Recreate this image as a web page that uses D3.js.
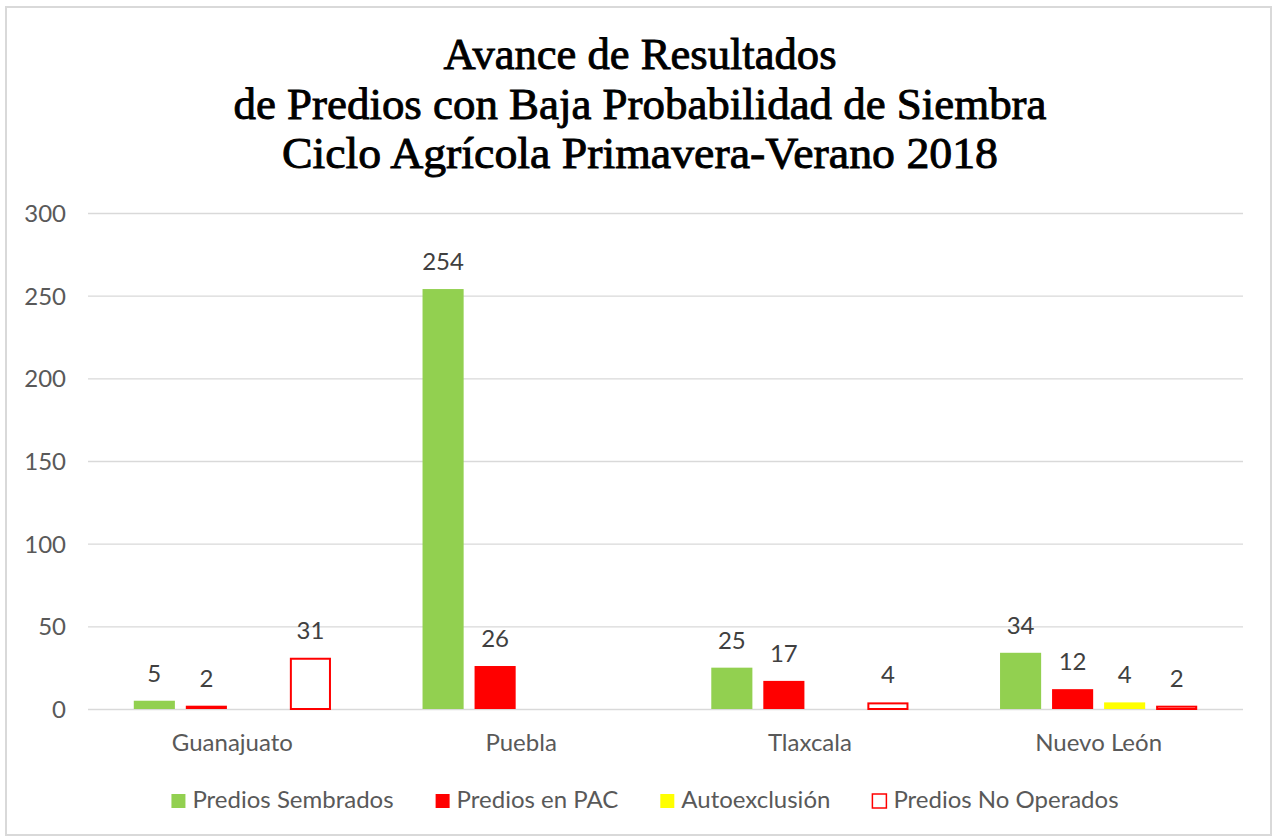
<!DOCTYPE html>
<html>
<head>
<meta charset="utf-8">
<script src="https://cdn.jsdelivr.net/npm/d3@7"></script>
<style>
    body { margin: 0; background: #fff; }
    svg { display: block; }
    .axis-text { font-family: Lato, "Open Sans", sans-serif; fill: #595959; }
    .label-text { font-family: Lato, "Open Sans", sans-serif; fill: #404040; }
    .title-text { font-family: "Liberation Serif", "DejaVu Serif", serif; fill: #000; stroke: #000; stroke-width: 0.9; }
</style>
</head>
<body>
<svg id="chart"></svg>
<script>
// datos
const titleLines = [
    'Avance de Resultados',
    'de Predios con Baja Probabilidad de Siembra',
    'Ciclo Agrícola Primavera-Verano 2018'
];
const estados = ['Guanajuato', 'Puebla', 'Tlaxcala', 'Nuevo León'];
const series = ['Predios Sembrados', 'Predios en PAC', 'Autoexclusión', 'Predios No Operados'];
const sembrados = [5, 254, 25, 34];
const enPAC = [2, 26, 17, 12];
const autoexclusion = [null, null, null, 4];
const noOperados = [31, null, 4, 2];
const yTicks = [0, 50, 100, 150, 200, 250, 300];

const seriesValues = [sembrados, enPAC, autoexclusion, noOperados];
const seriesFill = ['#92D050', '#FF0000', '#FFFF00', '#FFFFFF'];
const seriesStroke = ['none', 'none', 'none', '#FF0000'];

const W = 1276, H = 838;
const plot = { left: 88, right: 1243, top: 213, bottom: 709 };

let svg = d3.select('#chart').attr('width', W).attr('height', H);

// marco
svg.append('rect')
    .attr('x', 6).attr('y', 7)
    .attr('width', 1265).attr('height', 828)
    .attr('fill', '#fff')
    .attr('stroke', '#d9d9d9')
    .attr('stroke-width', 2);

// titulo
let titleWidths = [393, 813, 716];
let titleBase = [69, 119, 168];
svg.append('g').selectAll('text')
    .data(titleLines)
    .enter()
    .append('text')
    .attr('class', 'title-text')
    .attr('x', 640)
    .attr('y', (d, i) => titleBase[i])
    .attr('text-anchor', 'middle')
    .attr('font-size', 44)
    .attr('textLength', (d, i) => titleWidths[i])
    .attr('lengthAdjust', 'spacingAndGlyphs')
    .text(d => d);

// escalas
let x0 = d3.scaleBand()
    .domain(estados)
    .range([plot.left, plot.right]);

let x1 = d3.scaleBand()
    .domain(series)
    .range([0, x0.bandwidth()])
    .paddingInner(0.21)
    .paddingOuter(0.88);

let y = d3.scaleLinear()
    .domain([0, 300])
    .range([plot.bottom, plot.top]);

// lineas de cuadricula
let grid = svg.append('g').attr('class', 'grid');
grid.selectAll('line')
    .data(yTicks)
    .enter()
    .append('line')
    .attr('x1', plot.left)
    .attr('x2', plot.right)
    .attr('y1', d => y(d) + 0.5)
    .attr('y2', d => y(d) + 0.5)
    .attr('stroke', '#d9d9d9')
    .attr('stroke-width', 1.3);

// eje Y
let yAxis = svg.append('g')
    .attr('transform', 'translate(' + 66 + ',0)')
    .call(d3.axisLeft(y).tickValues(yTicks).tickSize(0).tickPadding(0));
yAxis.select('.domain').remove();
yAxis.selectAll('text')
    .attr('class', 'axis-text')
    .attr('font-size', 24)
    .attr('dy', '0.35em');

// eje X
let xAxis = svg.append('g')
    .attr('transform', 'translate(0,' + 751 + ')')
    .call(d3.axisBottom(x0).tickSize(0).tickPadding(0));
xAxis.select('.domain').remove();
xAxis.selectAll('text')
    .attr('class', 'axis-text')
    .attr('font-size', 24)
    .attr('dy', 0);

// barras
let rows = [];
estados.forEach(function(e, i) {
    series.forEach(function(s, j) {
        let v = seriesValues[j][i];
        if (v !== null) rows.push({ estado: e, serie: s, idx: j, value: v });
    });
});

let barGroup = svg.append('g').attr('class', 'bars');
barGroup.selectAll('rect')
    .data(rows)
    .enter()
    .append('rect')
    .attr('x', d => x0(d.estado) + x1(d.serie) + (d.idx === 3 ? 1 : 0))
    .attr('y', d => y(d.value) + (d.idx === 3 ? 1 : 0))
    .attr('width', d => x1.bandwidth() - (d.idx === 3 ? 2 : 0))
    .attr('height', d => plot.bottom - y(d.value) - (d.idx === 3 ? 1 : 0))
    .attr('fill', d => seriesFill[d.idx])
    .attr('stroke', d => seriesStroke[d.idx])
    .attr('stroke-width', 2);

// etiquetas de datos
barGroup.selectAll('text')
    .data(rows)
    .enter()
    .append('text')
    .attr('class', 'label-text')
    .attr('font-size', 24)
    .attr('text-anchor', 'middle')
    .attr('x', d => x0(d.estado) + x1(d.serie) + x1.bandwidth() / 2)
    .attr('y', d => y(d.value) - 19)
    .text(d => d.value);

// leyenda
let legend = svg.append('g').attr('class', 'legend');
let items = legend.selectAll('g')
    .data(series)
    .enter()
    .append('g');
items.append('rect')
    .attr('width', 14).attr('height', 14)
    .attr('y', -14)
    .attr('fill', (d, i) => seriesFill[i])
    .attr('stroke', (d, i) => seriesStroke[i])
    .attr('stroke-width', 1.5);
items.append('text')
    .attr('class', 'axis-text')
    .attr('font-size', 24)
    .attr('x', 21)
    .attr('y', 0)
    .text(d => d);

let offsets = [], pos = 0;
items.each(function() {
    offsets.push(pos);
    pos += 21 + d3.select(this).select('text').node().getComputedTextLength() + 42;
});
let legendW = pos - 42;
items.attr('transform', (d, i) => 'translate(' + offsets[i] + ',0)');
legend.attr('transform', 'translate(' + (645 - legendW / 2) + ',' + 808 + ')');
</script>
</body>
</html>
